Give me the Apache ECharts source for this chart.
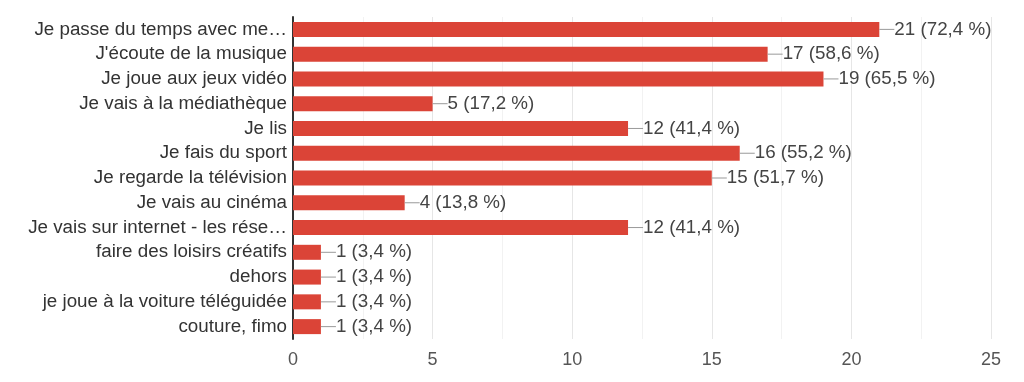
<!DOCTYPE html>
<html><head><meta charset="utf-8">
<script src="https://cdn.jsdelivr.net/npm/echarts@6/dist/echarts.min.js"></script>
<style>html,body{margin:0;padding:0;background:#fff}#c{width:1024px;height:382px}</style>
</head><body><div id="c"></div>
<script>
const categories = ["Je passe du temps avec me…","J'écoute de la musique","Je joue aux jeux vidéo","Je vais à la médiathèque","Je lis","Je fais du sport","Je regarde la télévision","Je vais au cinéma","Je vais sur internet - les rése…","faire des loisirs créatifs","dehors","je joue à la voiture téléguidée","couture, fimo"];
const counts = [21,17,19,5,12,16,15,4,12,1,1,1,1];
const percents = ["72,4","58,6","65,5","17,2","41,4","55,2","51,7","13,8","41,4","3,4","3,4","3,4","3,4"];
const xTicks = [0,5,10,15,20,25];

const chart = echarts.init(document.getElementById('c'));
chart.setOption({
  animation:false,
  textStyle:{fontFamily:'"Liberation Sans", Arial, sans-serif'},
  grid:{left:293,right:33,top:17,bottom:43,containLabel:false},
  xAxis:{type:'value',min:xTicks[0],max:xTicks[xTicks.length-1],interval:5,
    axisLine:{show:false},axisTick:{show:false},
    axisLabel:{color:'#555',fontSize:18,margin:12},
    splitLine:{lineStyle:{color:'#e6e6e6'}},
    minorTick:{show:false,splitNumber:2},
    minorSplitLine:{show:true,lineStyle:{color:'#f2f2f2'}}},
  yAxis:{type:'category',data:categories,inverse:true,
    axisLine:{show:true,lineStyle:{color:'#333',width:2}},
    axisTick:{show:false},
    axisLabel:{color:'#333',fontSize:18.8,margin:6}},
  series:[{type:'bar',data:counts,barWidth:15,
    itemStyle:{color:'#db4437'},
    label:{show:true,position:'right',distance:0,color:'#444',fontSize:18.8,
      formatter:p=>'{l|}{t|'+counts[p.dataIndex]+' ('+percents[p.dataIndex]+' %)}',
      rich:{l:{width:15,height:1,backgroundColor:'#999',verticalAlign:'middle'},
            t:{fontSize:18.8,color:'#444',verticalAlign:'middle'}}}}]
});
</script></body></html>
